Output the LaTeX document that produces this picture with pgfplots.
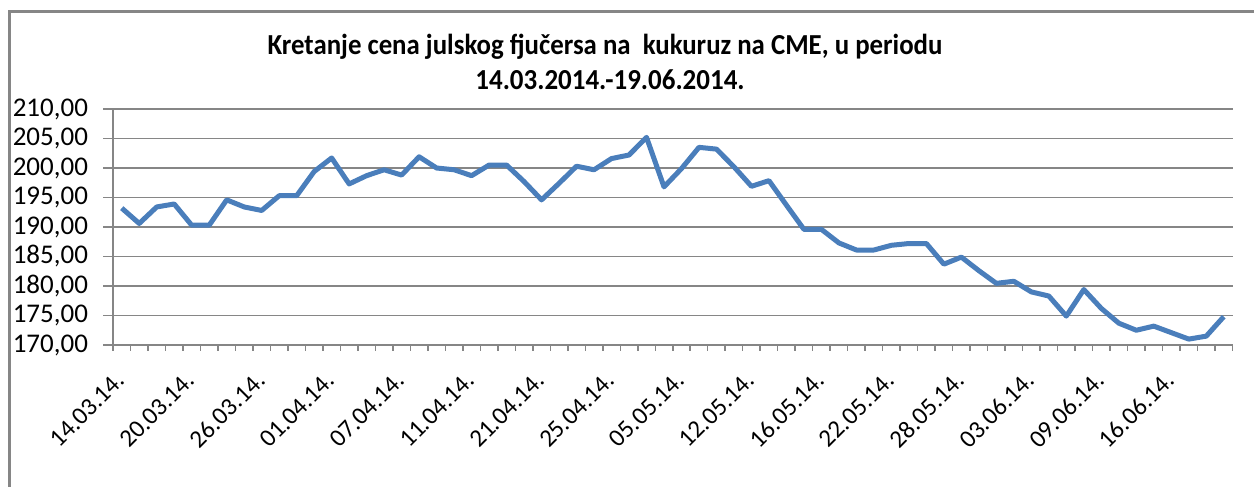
\documentclass[border=0pt]{standalone}
\usepackage{fontspec}
\setmainfont{Carlito}
\usepackage{pgfplots}
\pgfplotsset{compat=1.18}
\definecolor{linec}{RGB}{74,126,187}
\definecolor{gridc}{RGB}{134,134,134}
\begin{document}
\begin{tikzpicture}
\useasboundingbox (0,0) rectangle (627pt,243.5pt);
\draw[gridc, line width=1.5pt] (4.5pt,0) -- (4.5pt,237.75pt) -- (627pt,237.75pt);
\node[font=\fontsize{14.5}{14.5}\selectfont\bfseries, xscale=0.925] at (302.5pt,220pt) {Kretanje cena julskog fjučersa na\ \ kukuruz na CME, u periodu};
\node[font=\fontsize{14.5}{14.5}\selectfont\bfseries, xscale=0.93] at (305pt,203.5pt) {14.03.2014.-19.06.2014.};
\begin{axis}[
  at={(56.5pt,71pt)}, anchor=south west,
  scale only axis, width=559.75pt, height=118pt,
  xmin=-0.5, xmax=63.5, ymin=170, ymax=210,
  clip=false,
  axis lines*=left,
  axis line style={gridc, line width=0.75pt, -},
  tick align=outside,
  major tick length=5pt,
  minor tick length=3pt,
  tick style={gridc, line width=0.75pt},
  xtick={0,4,...,60},
  xticklabels={14.03.14.,20.03.14.,26.03.14.,01.04.14.,07.04.14.,11.04.14.,21.04.14.,25.04.14.,05.05.14.,12.05.14.,16.05.14.,22.05.14.,28.05.14.,03.06.14.,09.06.14.,16.06.14.},
  x tick style={draw=none},
  minor xtick={-0.5,0.5,...,63.5},
  minor x tick style={draw=gridc},
  xticklabel style={rotate=45, anchor=east, font=\fontsize{12.5}{12.5}\selectfont, yshift=-7.1pt, xshift=-4.3pt},
  ytick={170,175,...,210},
  ymajorgrids,
  grid style={gridc, line width=0.75pt},
  yticklabel style={font=\fontsize{13.5}{13.5}\selectfont, anchor=east, xshift=-4pt},
  /pgf/number format/.cd, fixed, fixed zerofill, precision=2, use comma, 1000 sep={}, assume math mode=true,
]
\addplot[linec, line width=2.5pt, line join=round, no markers] coordinates {
(0,193.2) (1,190.6) (2,193.4) (3,193.9) (4,190.3) (5,190.3) (6,194.6) (7,193.4)
(8,192.8) (9,195.3) (10,195.3) (11,199.4) (12,201.7) (13,197.3) (14,198.7) (15,199.7)
(16,198.8) (17,201.9) (18,200.0) (19,199.7) (20,198.7) (21,200.5) (22,200.5) (23,197.7)
(24,194.6) (25,197.4) (26,200.3) (27,199.7) (28,201.6) (29,202.2) (30,205.2) (31,196.8)
(32,199.9) (33,203.5) (34,203.2) (35,200.2) (36,196.9) (37,197.85) (38,193.7) (39,189.6)
(40,189.6) (41,187.3) (42,186.1) (43,186.1) (44,186.9) (45,187.2) (46,187.2) (47,183.7)
(48,184.9) (49,182.6) (50,180.45) (51,180.8) (52,179.0) (53,178.3) (54,174.9) (55,179.4)
(56,176.2) (57,173.7) (58,172.5) (59,173.2) (60,172.1) (61,171.0) (62,171.5) (63,174.8)
};
\end{axis}
\end{tikzpicture}
\end{document}
